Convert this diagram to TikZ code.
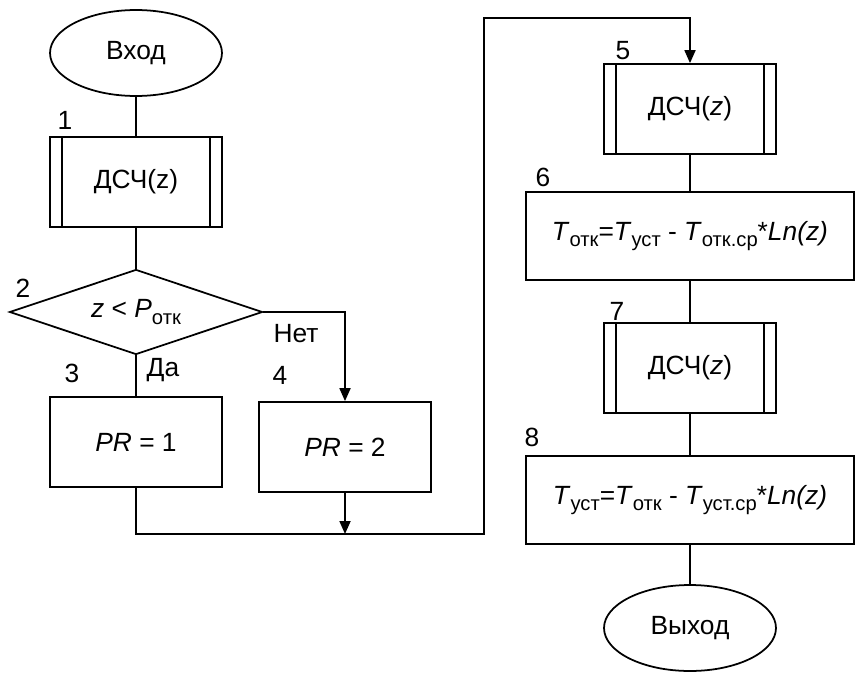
\documentclass[tikz,border=0pt]{standalone}
\usepackage{fontspec}
\setmainfont{Liberation Sans}
\usepackage{tikz}
\usetikzlibrary{arrows.meta,shapes.geometric}
\newcommand\lowtext[1]{\raisebox{-0.45ex}{\fontsize{11.5}{13}\selectfont #1}}

\begin{document}
\begin{tikzpicture}[x=0.02cm,y=-0.02cm,line width=1pt,font=\fontsize{15}{18}\selectfont,
  term/.style={draw,ellipse,minimum width=3.44cm,minimum height=1.72cm,inner sep=0pt},
  box/.style={draw,rectangle,minimum width=3.44cm,minimum height=1.8cm,inner sep=0pt},
  wide/.style={box,minimum width=6.56cm,minimum height=1.76cm},
  subproc/.style={box,path picture={
    \draw ([xshift=0.24cm]path picture bounding box.south west)--([xshift=0.24cm]path picture bounding box.north west)
      ([xshift=-0.24cm]path picture bounding box.south east)--([xshift=-0.24cm]path picture bounding box.north east);}},
  cond/.style={draw,diamond,aspect=3,minimum width=5.06cm,minimum height=1.7cm,inner sep=0pt},
  arr/.style={-{Triangle[length=0.26cm,width=0.22cm]}}]
\useasboundingbox (0,0) rectangle (855,673);
\node[term] (in) at (136,53) {Вход};
\node[subproc] (b1) at (136,182) {ДСЧ(z)};
\node[cond] (dec) at (136,312) {\textit{z} < \textit{P}\lowtext{отк}};
\node[box] (b3) at (136,442) {\textit{PR} = 1};
\node[box] (b4) at (345,447) {\textit{PR} = 2};
\node[subproc] (b5) at (690,109) {ДСЧ(\textit{z})};
\node[wide] (b6) at (690,236) {\textit{T}\lowtext{отк}=\textit{T}\lowtext{уст} - \textit{T}\lowtext{отк.ср}*\textit{Ln(z)}};
\node[subproc] (b7) at (690,368) {ДСЧ(\textit{z})};
\node[wide] (b8) at (690,500) {\textit{T}\lowtext{уст}=\textit{T}\lowtext{отк} - \textit{T}\lowtext{уст.ср}*\textit{Ln(z)}};
\node[term] (out) at (690,628) {Выход};
\foreach \t/\x/\y in {1/65/120,2/23/288,3/72/373,4/280/375,5/623/51,6/543/177,7/617/311,8/532/437}
  \node (n\t) at (\x,\y) {\t};
\node (no) at (296,334) {Нет};
\node (yes) at (163,370) {Да};
\coordinate (m) at (345,534);
\coordinate (up) at (484,18);
\draw (in)--(b1) (b1)--(dec) (dec.south)--(b3.north);
\draw[arr] (dec.east)-|(b4.north);
\draw (b3.south)|-(m);
\draw[arr] (b4.south)--(m);
\draw[arr] (m)-|(up)-|(b5.north);
\draw (b5)--(b6) (b6)--(b7) (b7)--(b8) (b8)--(out);
\end{tikzpicture}
\end{document}
